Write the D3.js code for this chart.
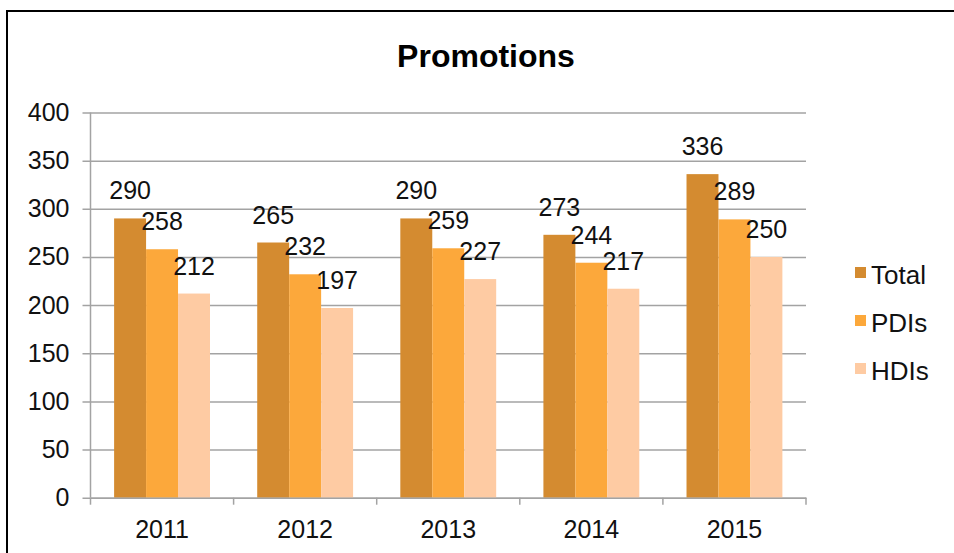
<!DOCTYPE html>
<html>
<head>
<meta charset="utf-8">
<script src="https://cdn.jsdelivr.net/npm/d3@7"></script>
<style>
  body { margin: 0; background: #fff; }
  svg { display: block; font-family: "Liberation Sans", Arial, Helvetica, sans-serif; }
</style>
</head>
<body>
<svg id="chart" width="954" height="553"></svg>
<script>
var years = ['2011', '2012', '2013', '2014', '2015'];
var seriesNames = ['Total', 'PDIs', 'HDIs'];
var totalValues = [290, 265, 290, 273, 336];
var pdiValues = [258, 232, 259, 244, 289];
var hdiValues = [212, 197, 227, 217, 250];
var yTicks = [0, 50, 100, 150, 200, 250, 300, 350, 400];
var colors = ['#d48b30', '#fca83b', '#fecba3'];

var svg = d3.select('#chart');
var plotLeft = 90.5, plotRight = 806, plotTop = 112.5, plotBottom = 497.7;
var gridColor = '#a3a3a3';

var rows = years.map(function(yr, i) {
  return { year: yr, values: [totalValues[i], pdiValues[i], hdiValues[i]] };
});

// outer frame, runs off the right and bottom edges like the screenshot
svg.append('rect')
  .attr('x', 7).attr('y', 11)
  .attr('width', 960).attr('height', 560)
  .attr('fill', 'none').attr('stroke', '#000').attr('stroke-width', 2);

var y = d3.scaleLinear().domain([0, 400]).range([plotBottom, plotTop]);
var x0 = d3.scaleBand().domain(years).range([plotLeft, plotRight])
  .paddingInner(0.33).paddingOuter(0.165);
var x1 = d3.scaleBand().domain(seriesNames).range([0, x0.bandwidth()]);
var color = d3.scaleOrdinal().domain(seriesNames).range(colors);

// gridlines + y axis
var yAxis = d3.axisLeft(y).tickValues(yTicks).tickSize(-(plotRight - plotLeft)).tickSizeOuter(0).tickPadding(21);
var yg = svg.append('g').attr('transform', 'translate(' + plotLeft + ',0)').call(yAxis);
yg.select('.domain').remove();
yg.selectAll('.tick line').attr('stroke', gridColor).attr('stroke-width', 1.5).attr('x1', -8);
yg.selectAll('.tick text').attr('font-size', 25).attr('fill', '#111').attr('font-family', null);

svg.append('line')
  .attr('x1', plotLeft).attr('x2', plotLeft).attr('y1', plotTop).attr('y2', plotBottom)
  .attr('stroke', gridColor).attr('stroke-width', 1.5);

// bars
var groups = svg.selectAll('.yearg')
  .data(rows)
  .enter()
  .append('g')
  .attr('class', 'yearg')
  .attr('transform', function(d) { return 'translate(' + x0(d.year) + ',0)'; });

function cells(d) {
  return d.values.map(function(v, i) { return { name: seriesNames[i], value: v }; });
}

groups.selectAll('rect')
  .data(cells)
  .enter()
  .append('rect')
  .attr('x', function(d) { return x1(d.name); })
  .attr('y', function(d) { return y(d.value); })
  .attr('width', x1.bandwidth())
  .attr('height', function(d) { return plotBottom - y(d.value); })
  .attr('fill', function(d) { return color(d.name); });

groups.selectAll('.lbl')
  .data(cells)
  .enter()
  .append('text')
  .attr('class', 'lbl')
  .attr('x', function(d) { return x1(d.name) + x1.bandwidth() / 2; })
  .attr('y', function(d) { return y(d.value) - 19; })
  .attr('text-anchor', 'middle')
  .attr('font-size', 25)
  .attr('fill', '#111')
  .text(function(d) { return d.value; });

// x axis
var xAxis = d3.axisBottom(x0).tickSize(0).tickPadding(23);
var xg = svg.append('g').attr('transform', 'translate(0,' + plotBottom + ')').call(xAxis);
xg.select('.domain').attr('stroke', gridColor).attr('stroke-width', 1.5);
xg.selectAll('.tick text').attr('font-size', 25).attr('fill', '#111').attr('font-family', null);

var step = x0.step();
var edges = years.map(function(yr) { return x0(yr) - step * 0.165; }).concat([plotRight]);
xg.selectAll('.edge')
  .data(edges)
  .enter()
  .append('line')
  .attr('class', 'edge')
  .attr('x1', function(d) { return d; }).attr('x2', function(d) { return d; })
  .attr('y1', 0).attr('y2', 7)
  .attr('stroke', gridColor).attr('stroke-width', 1.5);

// title
svg.append('text')
  .attr('x', 486).attr('y', 67)
  .attr('text-anchor', 'middle')
  .attr('font-size', 32)
  .attr('font-weight', 'bold')
  .attr('fill', '#000')
  .text('Promotions');

// legend
var legend = svg.selectAll('.leg')
  .data(seriesNames)
  .enter()
  .append('g')
  .attr('class', 'leg')
  .attr('transform', function(d, i) { return 'translate(855,' + (267 + i * 48) + ')'; });

legend.append('rect')
  .attr('width', 11).attr('height', 11)
  .attr('fill', function(d) { return color(d); });

legend.append('text')
  .attr('x', 16).attr('y', 17)
  .attr('font-size', 26)
  .attr('fill', '#111')
  .text(function(d) { return d; });
</script>
</body>
</html>
